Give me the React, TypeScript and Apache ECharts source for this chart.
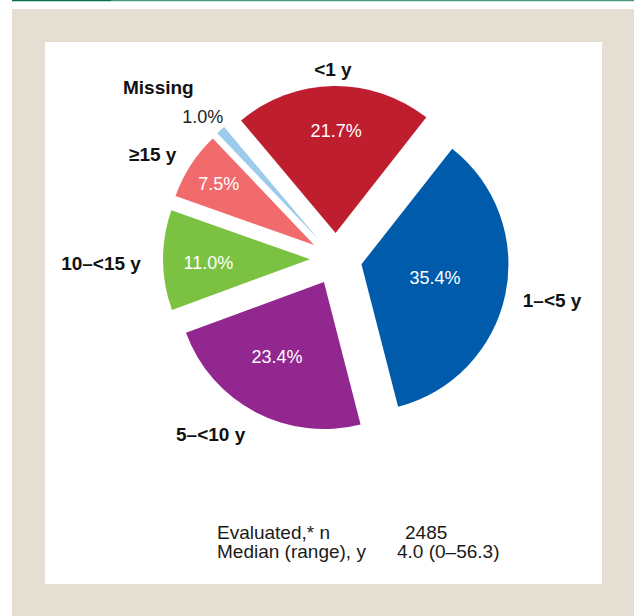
import React, { useEffect, useRef } from 'react';
import * as echarts from 'echarts';

// ---- data ----
const categories = ['<1 y', '1–<5 y', '5–<10 y', '10–<15 y', '≥15 y', 'Missing'];
const percentages = [21.7, 35.4, 23.4, 11.0, 7.5, 1.0];
const summaryLabels = ['Evaluated,* n', 'Median (range), y'];
const summaryValues = ['2485', '4.0 (0–56.3)'];

// ---- styles / layout ----
const sliceColors = ['#be1e2d', '#005bab', '#92278f', '#7cc242', '#f16b6c', '#9ccbec'];
const innerLabelColors = ['#ffffff', '#ffffff', '#ffffff', '#ffffff', '#ffffff', '#222222'];
const CX = 336;
const CY = 259;
const R = 147;
const OFFSET = 26;
const START_COMPASS = 320; // degrees clockwise from 12 o'clock
const innerLabelDist = [128.5, 100.7, 114.8, 127.7, 139, 194.5];
const innerLabelShift = [1, -1.2, 3.3, -1.2, -0.4, -1.4];
const outerLabelDist = [190, 220, 216, 235, 211, 247];
const outerLabelShift = [0, -1, 7.8, -0.6, -3.2, -4.2];
const FONT = '"Liberation Sans", Arial, Helvetica, sans-serif';

function midAngles(): number[] {
  const total = percentages.reduce((a, b) => a + b, 0);
  const res: number[] = [];
  let cum = 0;
  for (const v of percentages) {
    res.push(START_COMPASS + ((cum + v / 2) / total) * 360);
    cum += v;
  }
  return res;
}

function polar(dist: number, compassDeg: number) {
  const t = (compassDeg * Math.PI) / 180;
  return { x: CX + dist * Math.sin(t), y: CY - dist * Math.cos(t) };
}

export default function App() {
  const ref = useRef<HTMLDivElement>(null);

  useEffect(() => {
    if (!ref.current) return;
    const chart = echarts.init(ref.current, undefined, { renderer: 'svg' });
    const mids = midAngles();

    const basePie = {
      type: 'pie',
      center: [CX, CY],
      radius: [0, R],
      startAngle: 90 - START_COMPASS + 360,
      clockwise: true,
      avoidLabelOverlap: false,
      silent: true,
      emphasis: { disabled: true },
      labelLine: { show: false },
    };

    const option: any = {
      animation: false,
      backgroundColor: '#ffffff',
      graphic: {
        elements: [
          { type: 'rect', z: 0, shape: { x: 12, y: 9, width: 622, height: 607 }, style: { fill: '#e5dfd3' }, silent: true },
          { type: 'rect', z: 0, shape: { x: 45, y: 42, width: 557, height: 542 }, style: { fill: '#ffffff' }, silent: true },
          { type: 'rect', z: 0, shape: { x: 12, y: 0, width: 99, height: 1.2 }, style: { fill: '#00704e' }, silent: true },
          { type: 'rect', z: 0, shape: { x: 111, y: 0, width: 523, height: 1.2 }, style: { fill: '#4c9c82' }, silent: true },
          ...summaryLabels.map((t, i) => ({
            type: 'text', z: 5, x: 217, y: 532.5 + i * 19,
            style: { text: t, fill: '#1a1a1a', fontSize: 19, fontFamily: FONT, align: 'left', verticalAlign: 'middle' },
          })),
          ...summaryValues.map((t, i) => ({
            type: 'text', z: 5, x: i === 0 ? 405 : 397, y: 532.5 + i * 19,
            style: { text: t, fill: '#1a1a1a', fontSize: 19, fontFamily: FONT, align: 'left', verticalAlign: 'middle' },
          })),
        ],
      },
      series: [
        {
          ...basePie,
          selectedMode: 'multiple',
          selectedOffset: OFFSET,
          itemStyle: { borderWidth: 0 },
          label: { show: false },
          data: categories.map((name, i) => ({
            name,
            value: percentages[i],
            selected: true,
            itemStyle: { color: sliceColors[i] },
          })),
        },
        {
          ...basePie,
          z: 3,
          itemStyle: { color: 'rgba(0,0,0,0)', borderWidth: 0 },
          label: {
            show: true,
            position: 'inside',
            fontSize: 18,
            fontFamily: FONT,
            formatter: (p: any) => Number(p.value).toFixed(1) + '%',
          },
          labelLayout: (p: any) => {
            const i = p.dataIndex;
            const pt = polar(innerLabelDist[i], mids[i] + innerLabelShift[i]);
            return { x: pt.x, y: pt.y, align: 'center', verticalAlign: 'middle' };
          },
          data: categories.map((name, i) => ({
            name,
            value: percentages[i],
            label: { color: innerLabelColors[i] },
          })),
        },
        {
          ...basePie,
          z: 3,
          itemStyle: { color: 'rgba(0,0,0,0)', borderWidth: 0 },
          label: {
            show: true,
            position: 'outside',
            fontSize: 19,
            fontWeight: 'bold',
            color: '#111111',
            fontFamily: FONT,
            formatter: '{b}',
          },
          labelLayout: (p: any) => {
            const i = p.dataIndex;
            const pt = polar(outerLabelDist[i], mids[i] + outerLabelShift[i]);
            return { x: pt.x, y: pt.y, align: 'center', verticalAlign: 'middle' };
          },
          data: categories.map((name, i) => ({ name, value: percentages[i] })),
        },
      ],
    };

    chart.setOption(option);
    return () => chart.dispose();
  }, []);

  return (
    <div
      ref={ref}
      style={{ position: 'fixed', left: 0, top: 0, width: 634, height: 616 }}
    />
  );
}
